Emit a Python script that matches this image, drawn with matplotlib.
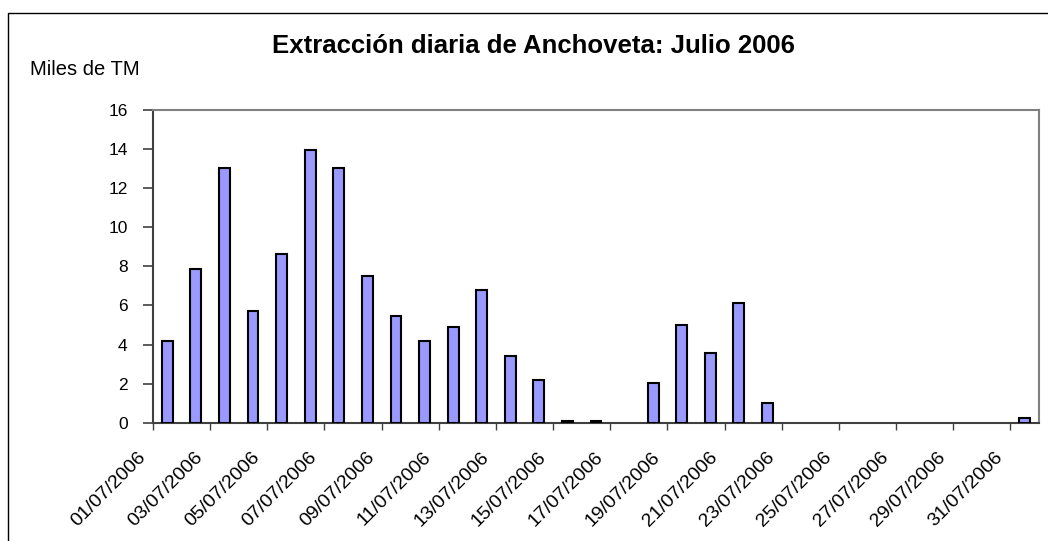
import numpy as np
import matplotlib
matplotlib.use("Agg")
import matplotlib.pyplot as plt
from matplotlib.patches import Rectangle
import matplotlib.transforms as mtransforms

# daily anchovy catch, July 2006 (thousand tonnes)
days = list(range(1, 32))
catch = [4.2, 7.85, 13.05, 5.7, 8.65, 13.95, 13.05, 7.5, 5.45, 4.2,
         4.9, 6.8, 3.4, 2.2, 0.1, 0.1, 0.0, 2.05, 5.0, 3.55,
         6.15, 1.0, 0.0, 0.0, 0.0, 0.0, 0.0, 0.0, 0.0, 0.0, 0.22]
tick_days = days[::2]
tick_labels = [f"{d:02d}/07/2006" for d in tick_days]
y_ticks = [0, 2, 4, 6, 8, 10, 12, 14, 16]

title = "Extracción diaria de Anchoveta: Julio 2006"
y_title = "Miles de TM"

plt.rcParams['font.family'] = ['Liberation Sans', 'DejaVu Sans']

W, H = 1048, 541
fig = plt.figure(figsize=(W / 100, H / 100), dpi=100)

# outer chart border (cut off on the right and bottom in the original)
fig.patches.append(Rectangle((8 / W, -0.2), 1.5, 1.2 - 13 / H, transform=fig.transFigure,
                             fill=False, edgecolor='black', linewidth=1.0, zorder=0))

ax = fig.add_axes([153 / W, 1 - 422.7 / H, (1039 - 153) / W, (422.7 - 110) / H])

x = np.arange(len(catch)) + 0.5
lws = [1.5 if v > 0 else 0 for v in catch]
ax.bar(x, catch, width=0.38, color='#9999FF', edgecolor='black', linewidth=lws, zorder=3)

ax.set_xlim(0, len(catch))
ax.set_ylim(0, 16)
ax.set_yticks(y_ticks)
ax.set_yticklabels([str(v) for v in y_ticks], fontsize=12.5)
ax.set_xticks([d - 1 for d in tick_days])
ax.set_xticklabels(tick_labels, fontsize=14, rotation=45, ha='right', va='center',
                   rotation_mode='anchor')

ax.tick_params(axis='y', direction='out', length=7.2, width=1.2, pad=11, color='#404040')
ax.tick_params(axis='x', direction='out', length=5, width=1.0, pad=2, color='#404040')

# shift the slanted date labels down/left like the original
offset = mtransforms.ScaledTranslation(-10 / 100, -22 / 100, fig.dpi_scale_trans)
for lab in ax.get_xticklabels():
    lab.set_transform(lab.get_transform() + offset)

for side in ['top', 'right']:
    ax.spines[side].set_color('#808080')
    ax.spines[side].set_linewidth(1.5)
for side in ['left', 'bottom']:
    ax.spines[side].set_color('#404040')
    ax.spines[side].set_linewidth(1.5)

fig.text(533 / W, 1 - 53.3 / H, title, ha='center', va='baseline',
         fontsize=18.5, fontweight='bold')
fig.text(30 / W, 1 - 75 / H, y_title, ha='left', va='baseline', fontsize=14.5)

fig.savefig('out.png', dpi=100)
